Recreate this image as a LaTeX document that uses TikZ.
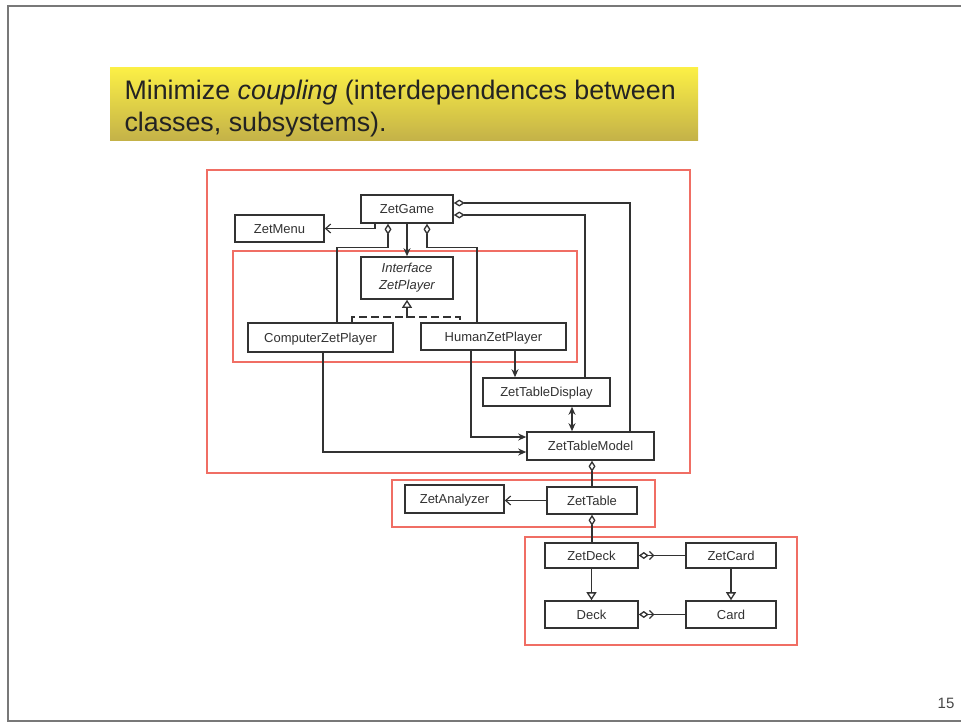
\documentclass[tikz,border=0pt]{standalone}
\usepackage{fontspec}
\setmainfont{Liberation Sans}
\usetikzlibrary{arrows.meta}
\definecolor{frame}{RGB}{120,120,120}
\definecolor{ink}{RGB}{50,50,50}
\definecolor{grp}{RGB}{240,110,100}
\definecolor{ytop}{RGB}{252,240,70}
\definecolor{ymid}{RGB}{238,222,72}
\definecolor{ybot}{RGB}{196,178,72}
\tikzset{
  cls/.style={draw=ink, line width=1.6pt, fill=white, inner sep=1pt,
    font=\fontsize{13}{15}\selectfont, text=ink},
  box/.style={cls, text height=9.5pt, text depth=0.5pt},
  group/.style={draw=grp, line width=1.5pt},
  conn/.style={draw=ink, line width=1.3pt},
  nav/.style={conn, -{Straight Barb[length=5pt,width=9pt,line width=1.2pt]}},
  navf/.style={conn, -{Stealth[length=8pt,width=7pt]}},
  navb/.style={conn, {Stealth[length=8pt,width=7pt]}-{Stealth[length=8pt,width=7pt]}},
  aggr/.style={conn, {Diamond[open,fill=white,length=11pt,width=7pt]}-},
  genr/.style={conn, -{Triangle[open,fill=white,length=8pt,width=10pt]}},
  realz/.style={conn, line width=1.8pt, dash pattern=on 8pt off 4pt},
  aggnav/.style={conn, -{Straight Barb[reversed,length=4pt,width=8pt] Diamond[open,fill=white,length=10pt,width=7pt]}},
}
\begin{document}
\begin{tikzpicture}[x=1pt,y=-1pt]
\useasboundingbox (0,0) rectangle (961,723);

% page frame
\draw[frame, line width=2pt] (961,6) -- (8,6) -- (8,721) -- (961,721);

% heading box
\shade[top color=ytop, middle color=ymid, bottom color=ybot] (110,67) rectangle (698,140);
\node[anchor=base west, font=\fontsize{26.8}{30}\selectfont, text={rgb,255:red,35;green,35;blue,35}] (head1) at (121,99)
  {Minimize \textit{coupling} (interdependences between};
\node[anchor=base west, font=\fontsize{26.8}{30}\selectfont, text={rgb,255:red,35;green,35;blue,35}] (head2) at (121,131)
  {classes, subsystems).};

% subsystem frames
\draw[group] (207,170) rectangle (690,473);
\draw[group] (233,251) rectangle (577,362);
\draw[group] (392,480) rectangle (655,527);
\draw[group] (525,537) rectangle (797,645);

% classes
\node[box, minimum width=92pt, minimum height=28pt] (zgame) at (407,209) {ZetGame};
\node[box, minimum width=89pt, minimum height=27pt] (zmenu) at (279.5,228.5) {ZetMenu};
\node[cls, minimum width=92pt, minimum height=42pt, align=center, font=\fontsize{13}{17}\selectfont\itshape] (iface) at (407,278) {Interface\\ZetPlayer};
\node[box, minimum width=145pt, minimum height=29pt] (comp) at (320.5,337.5) {ComputerZetPlayer};
\node[box, minimum width=145pt, minimum height=27pt] (human) at (493.5,336.5) {HumanZetPlayer};
\node[box, minimum width=127pt, minimum height=28pt] (tdisp) at (546.5,392) {ZetTableDisplay};
\node[box, minimum width=127pt, minimum height=28pt] (tmodel) at (590.5,446) {ZetTableModel};
\node[box, minimum width=99pt, minimum height=28pt] (anlz) at (454.5,499) {ZetAnalyzer};
\node[box, minimum width=90pt, minimum height=27pt] (ztable) at (592,500.5) {ZetTable};
\node[box, minimum width=93pt, minimum height=25pt] (zdeck) at (591.5,555.5) {ZetDeck};
\node[box, minimum width=90pt, minimum height=25pt] (zcard) at (731,555.5) {ZetCard};
\node[box, minimum width=93pt, minimum height=27pt] (deck) at (591.5,614.5) {Deck};
\node[box, minimum width=90pt, minimum height=27pt] (card) at (731,614.5) {Card};

% associations from ZetGame
\draw[nav] ([xshift=-32pt]zgame.south) |- (zmenu.east);
\draw[navf] (zgame.south) -- (iface.north);
\draw[aggr] ([xshift=-19pt]zgame.south) -- ++(0,24) -| ([xshift=16.5pt]comp.north);
\draw[aggr] ([xshift=20pt]zgame.south) -- ++(0,24) -| ([xshift=-16.5pt]human.north);
\draw[aggr] ([yshift=6pt]zgame.east) -| ([xshift=39.5pt]tmodel.north);
\draw[aggr] ([yshift=-6pt]zgame.east) -| ([xshift=38.5pt]tdisp.north);

% realization of the player interface
\coordinate (rj) at (407,318);
\draw[realz] ([xshift=31.5pt]comp.north) -- ++(0,-5) -| ([xshift=-33.5pt]human.north);
\draw[genr] (rj) -- (iface.south);

% players and table views
\draw[navf] ([xshift=21.5pt]human.south) -- ([xshift=21.5pt]human.south |- tdisp.north);
\draw[navf] ([xshift=-22.5pt]human.south) |- ([yshift=9pt]tmodel.west);
\draw[navf] ([xshift=2.5pt]comp.south) |- ([yshift=-6pt]tmodel.west);
\draw[navb] ([xshift=25.5pt]tdisp.south) -- ([xshift=25.5pt]tdisp.south |- tmodel.north);

% table, deck and cards
\draw[aggr] (tmodel.south -| ztable.north) -- (ztable.north);
\draw[nav] (ztable.west) -- (ztable.west -| anlz.east);
\draw[aggr] (ztable.south) -- (ztable.south |- zdeck.north);
\draw[aggnav] (zcard.west) -- (zdeck.east);
\draw[aggnav] (card.west) -- (deck.east);
\draw[genr] (zdeck.south) -- (deck.north);
\draw[genr] (zcard.south) -- (card.north);

% slide number
\node[font=\fontsize{15}{17}\selectfont, text={rgb,255:red,70;green,70;blue,70}] (pnum) at (946,703) {15};
\end{tikzpicture}
\end{document}
